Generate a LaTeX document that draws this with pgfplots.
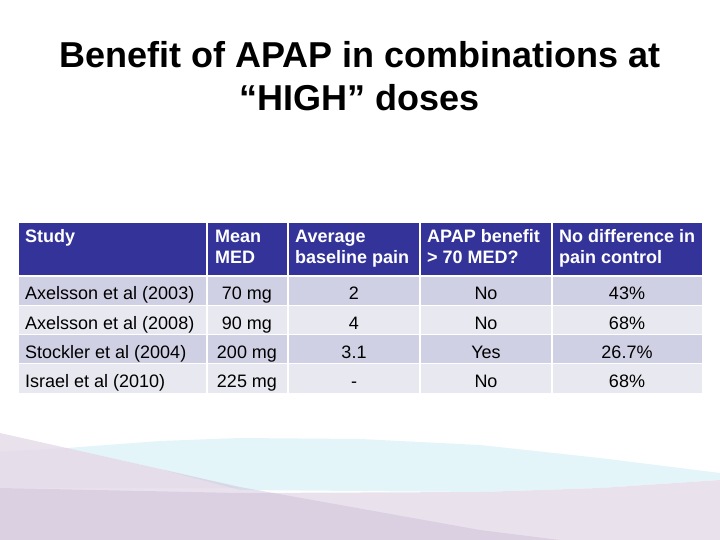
\documentclass[border=0pt]{standalone}
\usepackage{fontspec}
\setmainfont{Liberation Sans}
\usepackage{pgfplots}
\pgfplotsset{compat=1.18}
\definecolor{hdrblue}{RGB}{51,51,153}
\definecolor{rowdark}{RGB}{208,208,228}
\definecolor{rowlight}{RGB}{232,232,240}
\definecolor{wavelav}{RGB}{201,184,211}
\definecolor{waveblue}{RGB}{228,245,250}
\definecolor{wavelight}{RGB}{233,226,237}

\begin{document}
\begin{tikzpicture}
\begin{axis}[
  width=720bp, height=540bp, scale only axis,
  xmin=0, xmax=720, ymin=0, ymax=540,
  y dir=reverse,
  axis lines=none, ticks=none,
  clip=false,
]
% --- background waves
\addplot[fill=waveblue, draw=none] coordinates {
  (67,448) (160,441) (240,438) (360,439) (480,445) (600,458) (720,473)
  (720,480) (600,488) (480,492) (240,490) (160,469)} --cycle;
\addplot[fill=wavelav, fill opacity=0.12, draw=none] coordinates {
  (0,452) (67,448) (160,469) (240,488) (0,488)} --cycle;
\addplot[fill=wavelight, draw=none] coordinates {
  (0,488) (240,493) (480,492) (600,488) (720,480) (720,540) (0,540)} --cycle;
\addplot[fill=wavelav, fill opacity=0.41, draw=none] coordinates {
  (0,433) (240,487) (480,530) (560,540) (0,540)} --cycle;

% --- table backgrounds
\addplot[fill=hdrblue, draw=none] coordinates {(19,223) (702,223) (702,275) (19,275)} --cycle;
\addplot[fill=rowdark, draw=none] coordinates {(19,277) (702,277) (702,305) (19,305)} --cycle;
\addplot[fill=rowlight, draw=none] coordinates {(19,305) (702,305) (702,334) (19,334)} --cycle;
\addplot[fill=rowdark, draw=none] coordinates {(19,334) (702,334) (702,363) (19,363)} --cycle;
\addplot[fill=rowlight, draw=none] coordinates {(19,363) (702,363) (702,393) (19,393)} --cycle;
% cell separators
\addplot[white, line width=1.5bp] coordinates {(207,223) (207,393)};
\addplot[white, line width=1.5bp] coordinates {(288,223) (288,393)};
\addplot[white, line width=1.5bp] coordinates {(420,223) (420,393)};
\addplot[white, line width=1.5bp] coordinates {(552,223) (552,393)};
\addplot[white, line width=1.5bp] coordinates {(19,276) (702,276)};
\addplot[white, line width=1bp] coordinates {(19,305) (702,305)};
\addplot[white, line width=1bp] coordinates {(19,334) (702,334)};
\addplot[white, line width=1bp] coordinates {(19,363) (702,363)};

% --- title
\node[anchor=base, font=\fontsize{36bp}{43bp}\selectfont\bfseries] at (axis cs:360,68) {Benefit of APAP in combinations at};
\node[anchor=base, font=\fontsize{36bp}{43bp}\selectfont\bfseries] at (axis cs:360,111) {“HIGH” doses};

% --- header
\begin{scope}[every node/.style={anchor=base west, text=white, font=\fontsize{18bp}{21bp}\selectfont\bfseries, inner sep=0pt}]
\node at (axis cs:25,243) {Study};
\node at (axis cs:215,243) {Mean};
\node at (axis cs:215,264) {MED};
\node at (axis cs:295,243) {Average};
\node at (axis cs:295,264) {baseline pain};
\node at (axis cs:427,243) {APAP benefit};
\node at (axis cs:427,264) {> 70 MED?};
\node at (axis cs:559,243) {No difference in};
\node at (axis cs:559,264) {pain control};
\end{scope}

% --- body
\begin{scope}[every node/.style={text=black, font=\fontsize{18bp}{21bp}\selectfont, inner sep=0pt}]
\node[anchor=base west] at (axis cs:25,299) {Axelsson et al (2003)};
\node[anchor=base west] at (axis cs:25,329) {Axelsson et al (2008)};
\node[anchor=base west] at (axis cs:25,358) {Stockler et al (2004)};
\node[anchor=base west] at (axis cs:25,387) {Israel et al (2010)};
\node[anchor=base] at (axis cs:247,299) {70 mg};
\node[anchor=base] at (axis cs:247,329) {90 mg};
\node[anchor=base] at (axis cs:247,358) {200 mg};
\node[anchor=base] at (axis cs:247,387) {225 mg};
\node[anchor=base] at (axis cs:354,299) {2};
\node[anchor=base] at (axis cs:354,329) {4};
\node[anchor=base] at (axis cs:354,358) {3.1};
\node[anchor=base] at (axis cs:354,387) {-};
\node[anchor=base] at (axis cs:486,299) {No};
\node[anchor=base] at (axis cs:486,329) {No};
\node[anchor=base] at (axis cs:486,358) {Yes};
\node[anchor=base] at (axis cs:486,387) {No};
\node[anchor=base] at (axis cs:627,299) {43\%};
\node[anchor=base] at (axis cs:627,329) {68\%};
\node[anchor=base] at (axis cs:627,358) {26.7\%};
\node[anchor=base] at (axis cs:627,387) {68\%};
\end{scope}
\end{axis}
\pgfresetboundingbox
\path[use as bounding box] (current axis.south west) rectangle (current axis.north east);
\end{tikzpicture}
\end{document}
